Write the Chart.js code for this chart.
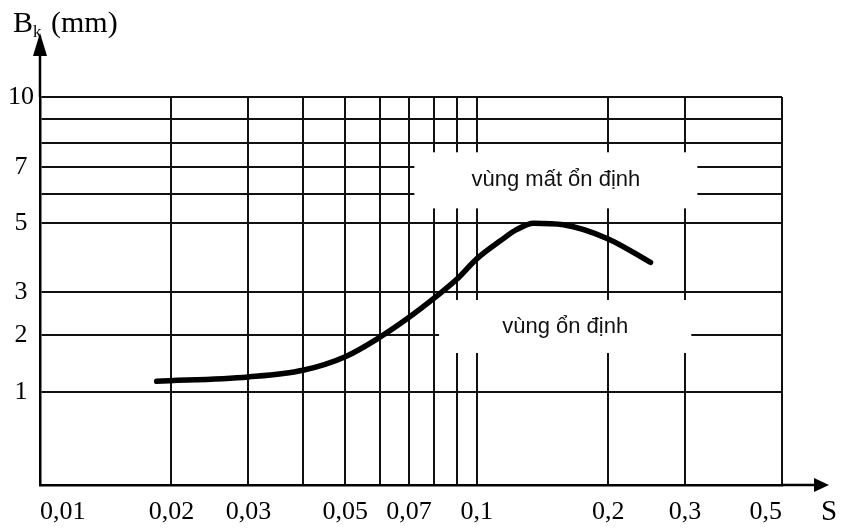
<!DOCTYPE html>
<html lang="vi">
<head>
<meta charset="utf-8">
<title>Bk theo S</title>
<script src="https://cdn.jsdelivr.net/npm/chart.js@4.4.0/dist/chart.umd.min.js"></script>
<style>
  html, body { margin: 0; padding: 0; background: #fff; }
  #wrap { width: 843px; height: 530px; }
</style>
</head>
<body>
<div id="wrap"><canvas id="chart" width="843" height="530"></canvas></div>
<script>
// Đường cong Bk(S)
const S_VALUES = [0.0185, 0.03, 0.04, 0.05, 0.06, 0.07, 0.08, 0.09, 0.1, 0.1135, 0.1236, 0.135, 0.158, 0.2, 0.25];
const BK_VALUES = [1.16, 1.23, 1.34, 1.58, 1.96, 2.39, 2.85, 3.33, 3.90, 4.45, 4.80, 5.0, 4.95, 4.50, 3.80];

// Lưới và nhãn trục
const X_GRID = [0.01, 0.02, 0.03, 0.04, 0.05, 0.06, 0.07, 0.08, 0.09, 0.1, 0.2, 0.3, 0.5];
const X_LABEL_VALUES = [0.01, 0.02, 0.03, 0.05, 0.07, 0.1, 0.2, 0.3, 0.5];
const X_TICK_LABELS = ['0,01', '0,02', '0,03', '0,05', '0,07', '0,1', '0,2', '0,3', '0,5'];

const Y_GRID = [1, 2, 3, 5, 6, 7, 8, 9, 10];
const Y_LABEL_VALUES = [1, 2, 3, 5, 7, 10];
const Y_TICK_LABELS = ['1', '2', '3', '5', '7', '10'];

// Hai vùng ghi chú (theo đơn vị dữ liệu)
const REGION_LABELS = ['vùng mất ổn định', 'vùng ổn định'];
const REGION_S = [[0.072, 0.32], [0.082, 0.31]];
const REGION_BK = [[5.5, 7.6], [1.65, 2.8]];

// Trục căn bậc hai cho Bk
class SqrtScale extends Chart.LinearScale {
    getPixelForValue(value) {
        if (value === null || value === undefined) return NaN;
        const lo = Math.sqrt(this.min), hi = Math.sqrt(this.max);
        return this.getPixelForDecimal((Math.sqrt(value) - lo) / (hi - lo));
    }
    getValueForPixel(pixel) {
        const lo = Math.sqrt(this.min), hi = Math.sqrt(this.max);
        const s = lo + this.getDecimalForPixel(pixel) * (hi - lo);
        return s * s;
    }
}
SqrtScale.id = 'sqrt';
SqrtScale.defaults = {};
Chart.register(SqrtScale);

const SERIF = '"Liberation Serif", "Times New Roman", serif';
const SANS = '"Liberation Sans", Arial, sans-serif';

const overlayPlugin = {
    id: 'overlay',
    beforeDatasetsDraw(chart) {
        const ctx = chart.ctx;
        const x = chart.scales.x, y = chart.scales.y;
        ctx.save();
        REGION_LABELS.forEach((label, i) => {
            const x0 = x.getPixelForValue(REGION_S[i][0]);
            const x1 = x.getPixelForValue(REGION_S[i][1]);
            const y0 = y.getPixelForValue(REGION_BK[i][1]);
            const y1 = y.getPixelForValue(REGION_BK[i][0]);
            ctx.fillStyle = '#fff';
            ctx.fillRect(x0, y0, x1 - x0, y1 - y0);
            ctx.fillStyle = '#111';
            ctx.font = '22px ' + SANS;
            ctx.textAlign = 'center';
            ctx.textBaseline = 'middle';
            ctx.fillText(label, (x0 + x1) / 2, (y0 + y1) / 2);
        });
        ctx.restore();
    },
    afterDraw(chart) {
        const ctx = chart.ctx;
        const area = chart.chartArea;
        ctx.save();
        ctx.strokeStyle = '#000';
        ctx.fillStyle = '#000';
        ctx.lineWidth = 2.5;
        // mũi tên trục S
        ctx.beginPath();
        ctx.moveTo(area.right, area.bottom);
        ctx.lineTo(816, area.bottom);
        ctx.stroke();
        ctx.beginPath();
        ctx.moveTo(829, area.bottom);
        ctx.lineTo(814, area.bottom - 7);
        ctx.lineTo(814, area.bottom + 7);
        ctx.closePath();
        ctx.fill();
        // mũi tên trục Bk
        ctx.beginPath();
        ctx.moveTo(area.left, area.top);
        ctx.lineTo(area.left, 54);
        ctx.stroke();
        ctx.beginPath();
        ctx.moveTo(area.left, 33);
        ctx.lineTo(area.left - 7, 56);
        ctx.lineTo(area.left + 7, 56);
        ctx.closePath();
        ctx.fill();
        // tên trục
        ctx.textAlign = 'left';
        ctx.textBaseline = 'alphabetic';
        ctx.font = '30px ' + SERIF;
        ctx.fillText('B', 13, 32);
        ctx.font = '17px ' + SERIF;
        ctx.fillText('k', 33, 37);
        ctx.font = '30px ' + SERIF;
        ctx.fillText('(mm)', 51, 32);
        ctx.font = '29px ' + SERIF;
        ctx.fillText('S', 821, 520);
        ctx.restore();
    }
};

new Chart(document.getElementById('chart'), {
    type: 'line',
    data: {
        datasets: [{
            label: 'Bk',
            data: S_VALUES.map((s, i) => ({ x: s, y: BK_VALUES[i] })),
            borderColor: '#000',
            borderWidth: 5.5,
            borderCapStyle: 'round',
            pointRadius: 0,
            cubicInterpolationMode: 'monotone',
            fill: false
        }]
    },
    options: {
        responsive: false,
        animation: false,
        events: [],
        layout: { padding: { top: 97, right: 61, left: 0, bottom: 0 } },
        plugins: { legend: { display: false }, tooltip: { enabled: false } },
        scales: {
            x: {
                type: 'logarithmic',
                min: 0.01,
                max: 0.5,
                bounds: 'data',
                afterBuildTicks: (scale) => { scale.ticks = X_GRID.map(v => ({ value: v })); },
                afterFit: (scale) => { scale.height = 45; },
                grid: { color: '#111', lineWidth: 2, drawTicks: false },
                border: { color: '#000', width: 2.5 },
                ticks: {
                    autoSkip: false,
                    maxRotation: 0,
                    align: 'inner',
                    padding: 12,
                    color: '#000',
                    font: { family: SERIF, size: 26 },
                    callback: (value) => {
                        const k = X_LABEL_VALUES.findIndex(v => Math.abs(v - value) < 1e-9);
                        return k >= 0 ? X_TICK_LABELS[k] : '';
                    }
                }
            },
            y: {
                type: 'sqrt',
                min: 0.1,
                max: 10,
                bounds: 'data',
                afterBuildTicks: (scale) => { scale.ticks = Y_GRID.map(v => ({ value: v })); },
                afterFit: (scale) => { scale.width = 40; },
                grid: { color: '#111', lineWidth: 2, drawTicks: false },
                border: { color: '#000', width: 2.5 },
                ticks: {
                    autoSkip: false,
                    crossAlign: 'center',
                    padding: 6,
                    color: '#000',
                    font: { family: SERIF, size: 26 },
                    callback: (value) => {
                        const k = Y_LABEL_VALUES.indexOf(value);
                        return k >= 0 ? Y_TICK_LABELS[k] : '';
                    }
                }
            }
        }
    },
    plugins: [overlayPlugin]
});
</script>
</body>
</html>
